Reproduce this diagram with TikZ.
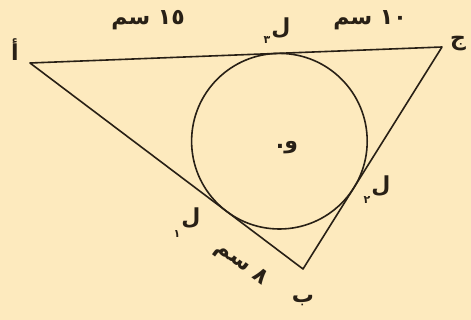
\documentclass[tikz,border=0pt]{standalone}
\usepackage{fontspec}
\newfontfamily\arabicfont[Script=Arabic]{DejaVu Sans}
\TeXXeTstate=1
\definecolor{bg}{RGB}{253,234,190}
\definecolor{ink}{RGB}{40,32,22}
\begin{document}
\begin{tikzpicture}[x=1pt,y=-1pt,
  edge/.style={draw=ink,line width=1.6pt,line join=round},
  lab/.style={text=ink,font=\arabicfont\bfseries\fontsize{22}{24}\selectfont,inner sep=0pt},
  sublab/.style={text=ink,font=\arabicfont\bfseries\fontsize{11}{12}\selectfont,inner sep=0pt}]
\fill[bg] (0,0) rectangle (471,320);
\useasboundingbox (0,0) rectangle (471,320);
\coordinate (A) at (30,63);
\coordinate (C) at (442,47);
\coordinate (B) at (303,269);
\coordinate (O) at (279.4,141.2);
\draw[edge] (A) -- (C) -- (B) -- cycle;
\draw[edge] (O) circle[radius=87.8];
\node[lab] (lA) at (15,50) {\beginR أ\endR};
\node[lab] (lC) at (458,44) {\beginR ج\endR};
\node[lab] (lB) at (303,301) {\beginR ب\endR};
\node[lab] (lO) at (287,148) {\beginR و.\endR};
\node[lab] (d15) at (148,20) {\beginR ١٥ سم\endR};
\node[lab] (d10) at (370,20) {\beginR ١٠ سم\endR};
\node[lab,rotate=-37] (d8) at (241,264) {\beginR ٨ سم\endR};
\node[lab] (L3) at (281,28) {\beginR ل\endR};
\node[sublab] (s3) at (267,40) {\beginR ٣\endR};
\node[lab] (L2) at (381,186) {\beginR ل\endR};
\node[sublab] (s2) at (367,200) {\beginR ٢\endR};
\node[lab] (L1) at (191,218) {\beginR ل\endR};
\node[sublab] (s1) at (177,234) {\beginR ١\endR};
\end{tikzpicture}
\end{document}
